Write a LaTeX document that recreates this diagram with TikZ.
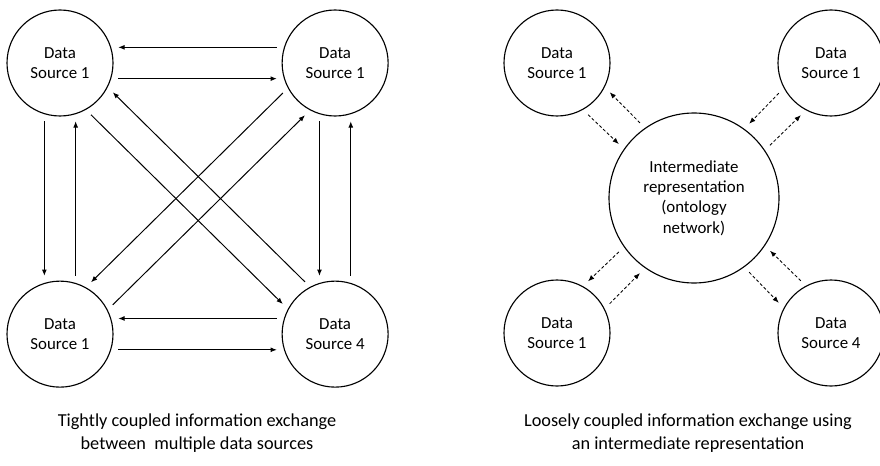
\documentclass[tikz,border=0pt]{standalone}
\usepackage{fontspec}
\setmainfont{Carlito}
\usetikzlibrary{positioning,arrows.meta}

\tikzset{
	source/.style={draw, circle, line width=0.8pt, minimum size=2.65cm,
		inner sep=0pt, align=center, font=\fontsize{12}{14.5}\selectfont},
	hub/.style={source, minimum size=4.25cm},
	link/.style={line width=0.7pt, -{Latex[length=4.5pt,width=3.5pt]},
		shorten <=5pt, shorten >=5pt},
	dlink/.style={link, line width=0.6pt, dash pattern=on 2.2pt off 1.5pt},
	caption/.style={align=center, font=\fontsize{13}{16.4}\selectfont}
}

\begin{document}
\begin{tikzpicture}
		\useasboundingbox (0,0) rectangle (22,11.625);

		% tightly coupled
		\node[source] (tl) at (1.5,10.05) {Data\\Source 1};
		\node[source, right=4.2cm of tl] (tr) {Data\\Source 1};
		\node[source, below=4.1cm of tl] (bl) {Data\\Source 1};
		\node[source, below=4.1cm of tr] (br) {Data\\Source 4};

		\node[caption] (capleft) at (4.925,0.79)
			{Tightly coupled information exchange\\between\ \ multiple data sources};

		\path[link] (tr.163) edge (tl.17)
		(tl.-17) edge (tr.-163)
		(tl.-107) edge (bl.107)
		(bl.73) edge (tl.-73)
		(tr.-107) edge (br.107)
		(br.73) edge (tr.-73)
		(br.163) edge (bl.17)
		(bl.-17) edge (br.-163)
		(tl.-61.6) edge (br.152.4)
		(br.118.4) edge (tl.-27.6)
		(tr.-152.4) edge (bl.61.6)
		(bl.27.6) edge (tr.-118.4);

		% loosely coupled
		\node[hub] (onto) at (17.35,6.675)
			{Intermediate\\representation\\(ontology\\network)};
		\node[source] (rtl) at (13.925,10.05) {Data\\Source 1};
		\node[source] (rtr) at (20.775,10.05) {Data\\Source 1};
		\node[source] (rbl) at (13.925,3.3) {Data\\Source 1};
		\node[source] (rbr) at (20.775,3.3) {Data\\Source 4};

		\node[caption] (capright) at (17.2,0.79)
			{Loosely coupled information exchange using\\an intermediate representation};

		\path[dlink] (rtl.-61.6) edge (onto.145.4)
		(onto.125.4) edge (rtl.-27.6)
		(rtr.-152.4) edge (onto.54.6)
		(onto.34.6) edge (rtr.-118.4)
		(rbl.27.6) edge (onto.-125.4)
		(onto.-145.4) edge (rbl.61.6)
		(rbr.118.4) edge (onto.-34.6)
		(onto.-54.6) edge (rbr.152.4);

	\end{tikzpicture}
\end{document}
